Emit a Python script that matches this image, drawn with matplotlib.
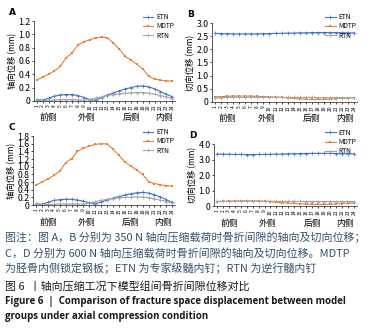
import numpy as np
import matplotlib
matplotlib.use("Agg")
import matplotlib.pyplot as plt

plt.rcParams['font.family'] = ['Noto Sans CJK SC', 'DejaVu Sans']

points = list(range(1, 25))
sides = ['前侧', '外侧', '后侧', '内侧']
side_pos = [3, 9.5, 17, 22.5]

# A: 350 N axial
a_etn = [0.02, 0.01, 0.04, 0.07, 0.09, 0.095, 0.095, 0.08, 0.05, 0.02, 0.01, 0.05,
         0.09, 0.12, 0.15, 0.18, 0.20, 0.22, 0.225, 0.21, 0.18, 0.14, 0.10, 0.06]
a_mdtp = [0.31, 0.36, 0.40, 0.45, 0.52, 0.65, 0.72, 0.84, 0.89, 0.92, 0.95, 0.96,
          0.95, 0.87, 0.78, 0.67, 0.61, 0.55, 0.48, 0.37, 0.33, 0.31, 0.30, 0.30]
a_rtn = [0.01, 0.0, 0.01, 0.015, 0.02, 0.02, 0.02, 0.015, 0.01, 0.02, 0.04, 0.06,
         0.08, 0.095, 0.105, 0.115, 0.12, 0.125, 0.125, 0.115, 0.10, 0.08, 0.06, 0.03]
# B: 350 N tangential
b_etn = [2.61, 2.60, 2.60, 2.59, 2.59, 2.59, 2.59, 2.59, 2.60, 2.60, 2.61, 2.61,
         2.62, 2.62, 2.63, 2.63, 2.64, 2.64, 2.64, 2.64, 2.64, 2.63, 2.63, 2.63]
b_mdtp = [0.19, 0.20, 0.21, 0.22, 0.22, 0.22, 0.22, 0.21, 0.20, 0.19, 0.18, 0.17,
          0.15, 0.13, 0.11, 0.10, 0.09, 0.09, 0.09, 0.10, 0.12, 0.14, 0.15, 0.16]
b_rtn = [0.16, 0.16, 0.17, 0.17, 0.17, 0.17, 0.17, 0.17, 0.17, 0.17, 0.17, 0.17,
         0.17, 0.17, 0.17, 0.17, 0.17, 0.16, 0.16, 0.16, 0.16, 0.16, 0.16, 0.16]
# C: 600 N axial
c_etn = [0.03, 0.02, 0.07, 0.12, 0.14, 0.15, 0.15, 0.13, 0.10, 0.06, 0.03, 0.08,
         0.13, 0.18, 0.22, 0.26, 0.29, 0.32, 0.33, 0.31, 0.27, 0.21, 0.14, 0.07]
c_mdtp = [0.52, 0.60, 0.68, 0.77, 0.88, 1.10, 1.21, 1.40, 1.48, 1.54, 1.58, 1.60,
          1.59, 1.46, 1.30, 1.12, 1.02, 0.91, 0.80, 0.61, 0.56, 0.53, 0.50, 0.50]
c_rtn = [0.03, 0.01, 0.02, 0.02, 0.03, 0.03, 0.03, 0.03, 0.02, 0.05, 0.09, 0.12,
         0.15, 0.17, 0.19, 0.20, 0.20, 0.21, 0.21, 0.19, 0.16, 0.13, 0.09, 0.05]
# D: 600 N tangential
d_etn = [3.36, 3.35, 3.34, 3.33, 3.33, 3.32, 3.32, 3.33, 3.33, 3.34, 3.35, 3.36,
         3.37, 3.38, 3.39, 3.39, 3.40, 3.40, 3.40, 3.40, 3.39, 3.38, 3.38, 3.37]
d_mdtp = [0.28, 0.30, 0.31, 0.32, 0.33, 0.33, 0.33, 0.32, 0.30, 0.28, 0.24, 0.21,
          0.19, 0.17, 0.14, 0.12, 0.11, 0.10, 0.10, 0.11, 0.13, 0.16, 0.18, 0.20]
d_rtn = [0.30, 0.30, 0.31, 0.31, 0.31, 0.31, 0.31, 0.31, 0.31, 0.31, 0.30, 0.30,
         0.30, 0.30, 0.30, 0.29, 0.29, 0.29, 0.29, 0.29, 0.29, 0.29, 0.29, 0.29]

a_ticks = [0, 0.2, 0.4, 0.6, 0.8, 1.0, 1.2]
a_labels = ['0', '0.2', '0.4', '0.6', '0.8', '1.0', '1.2']
b_ticks = [0, 0.5, 1.0, 1.5, 2.0, 2.5, 3.0]
b_labels = ['0', '0.5', '1.0', '1.5', '2.0', '2.5', '3.0']
c_ticks = [0, 0.2, 0.4, 0.6, 0.8, 1.0, 1.2, 1.4, 1.6, 1.8]
c_labels = ['0', '0.2', '0.4', '0.6', '0.8', '1.0', '1.2', '1.4', '1.6', '1.8']
d_ticks = [0, 1.0, 2.0, 3.0, 4.0]
d_labels = ['0', '1.0', '2.0', '3.0', '4.0']

BLUE = '#4472C4'
ORANGE = '#ED7D31'
GRAY = '#A5A5A5'

fig = plt.figure(figsize=(3.8, 3.35), dpi=100)

panels = [
    ('A', [0.089, 0.699, 0.372, 0.238], a_etn, a_mdtp, a_rtn, a_ticks, a_labels, '轴向位移 (mm)', (0.47, 0.975)),
    ('B', [0.558, 0.696, 0.382, 0.235], b_etn, b_mdtp, b_rtn, b_ticks, b_labels, '切向位移 (mm)', (0.95, 0.975)),
    ('C', [0.087, 0.388, 0.374, 0.206], c_etn, c_mdtp, c_rtn, c_ticks, c_labels, '轴向位移 (mm)', (0.47, 0.632)),
    ('D', [0.563, 0.385, 0.376, 0.185], d_etn, d_mdtp, d_rtn, d_ticks, d_labels, '切向位移 (mm)', (0.95, 0.63)),
]

for letter, rect, etn, mdtp, rtn, yt, yl, ylab, leg_xy in panels:
    ax = fig.add_axes(rect)
    ax.plot(points, etn, color=BLUE, lw=0.8, marker='+', ms=2.2, mew=0.5, label='ETN')
    ax.plot(points, mdtp, color=ORANGE, lw=0.8, marker='s', ms=1.8, mew=0, label='MDTP')
    ax.plot(points, rtn, color=GRAY, lw=0.8, marker='+', ms=2.2, mew=0.5, label='RTN')
    ax.set_xlim(0.5, 24.5)
    ax.set_ylim(yt[0], yt[-1])
    ax.set_yticks(yt)
    ax.set_yticklabels(yl, fontsize=6.3)
    ax.set_xticks(points)
    ax.set_xticklabels([str(p) for p in points], fontsize=3.5, rotation=90)
    ax.tick_params(axis='both', length=1.5, width=0.5, pad=1)
    for s in ['top', 'right']:
        ax.spines[s].set_visible(False)
    for s in ['left', 'bottom']:
        ax.spines[s].set_linewidth(0.6)
        ax.spines[s].set_color('#404040')
    ax.set_ylabel(ylab, fontsize=6, labelpad=1)
    for name, xp in zip(sides, side_pos):
        ax.annotate(name, xy=(xp, 0), xycoords=('data', 'axes fraction'),
                    xytext=(0, -9), textcoords='offset points',
                    ha='center', va='top', fontsize=6.3)
    fig.legend(handles=ax.get_lines(), loc='upper right', bbox_to_anchor=leg_xy,
               fontsize=4.8, frameon=False, handlelength=1.6, labelspacing=0.2,
               handletextpad=0.4, borderpad=0.2)
    pos = ax.get_position()
    fig.text(pos.x0 - 0.065, pos.y1 + 0.025, letter, fontsize=6.5, fontweight='bold',
             family='DejaVu Sans', va='center')

note_color = '#34506e'
fig.text(0.013, 0.293, '图注：图 A，B 分别为 350 N 轴向压缩载荷时骨折间隙的轴向及切向位移；',
         fontsize=7.9, color=note_color, va='center')
fig.text(0.013, 0.245, 'C，D 分别为 600 N 轴向压缩载荷时骨折间隙的轴向及切向位移。MDTP',
         fontsize=7.9, color=note_color, va='center')
fig.text(0.013, 0.199, '为胫骨内侧锁定钢板；ETN 为专家级髓内钉；RTN 为逆行髓内钉',
         fontsize=7.9, color=note_color, va='center')
fig.text(0.013, 0.146, '图 6  丨轴向压缩工况下模型组间骨折间隙位移对比',
         fontsize=7.9, color='#1a1a1a', va='center')
fig.text(0.013, 0.099, 'Figure 6  |  Comparison of fracture space displacement between model',
         fontsize=7.0, fontweight='bold', family='Open Sans', color='#1a1a1a', va='center')
fig.text(0.013, 0.054, 'groups under axial compression condition',
         fontsize=7.0, fontweight='bold', family='Open Sans', color='#1a1a1a', va='center')

fig.savefig('out.png', dpi=100)
